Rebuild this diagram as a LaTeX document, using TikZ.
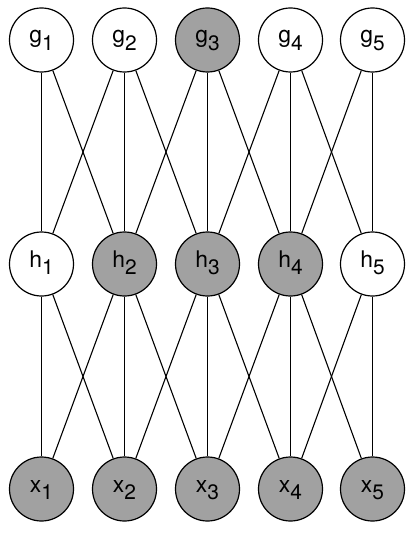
\documentclass[tikz,border=0pt]{standalone}
\usepackage{fontspec}
\setmainfont{TeX Gyre Heros}
\usepackage{xcolor}
\usepackage{tikz}
\definecolor{unitgray}{RGB}{161,161,161}
\newcommand{\unitlab}[2]{{\fontsize{23}{23}\selectfont #1}\raisebox{-7.5bp}{\fontsize{21}{21}\selectfont #2}}
\tikzset{
  unit/.style={circle, draw=black, line width=1.2bp, fill=white, minimum size=64bp,
    inner sep=0pt, text height=6bp, text depth=0bp},
  seen/.style={unit, fill=unitgray},
  link/.style={line width=1.1bp, black},
}

\begin{document}
\begin{tikzpicture}[x=1bp,y=-1bp]
  \useasboundingbox (0,0) rectangle (417,535);
  % top layer
  \node[unit] (g1) at (41.5,40)  {\unitlab{g}{1}};
  \node[unit] (g2) at (124.5,40) {\unitlab{g}{2}};
  \node[seen] (g3) at (207.5,40) {\unitlab{g}{3}};
  \node[unit] (g4) at (290.5,40) {\unitlab{g}{4}};
  \node[unit] (g5) at (372.5,40) {\unitlab{g}{5}};
  % hidden layer
  \node[unit] (h1) at (41.5,264)  {\unitlab{h}{1}};
  \node[seen] (h2) at (124.5,264) {\unitlab{h}{2}};
  \node[seen] (h3) at (207.5,264) {\unitlab{h}{3}};
  \node[seen] (h4) at (290.5,264) {\unitlab{h}{4}};
  \node[unit] (h5) at (372.5,264) {\unitlab{h}{5}};
  % input layer
  \foreach \i/\xx in {1/41.5,2/124.5,3/207.5,4/290.5,5/372.5}
    \node[seen] (x\i) at (\xx,489) {\unitlab{x}{\i}};
  % connections
  \foreach \i in {1,...,5}
    \foreach \j in {1,...,5} {
      \pgfmathtruncatemacro{\d}{abs(\i-\j)}
      \ifnum\d<2
        \draw[link] (g\i) -- (h\j);
        \draw[link] (h\i) -- (x\j);
      \fi
    }
\end{tikzpicture}
\end{document}
